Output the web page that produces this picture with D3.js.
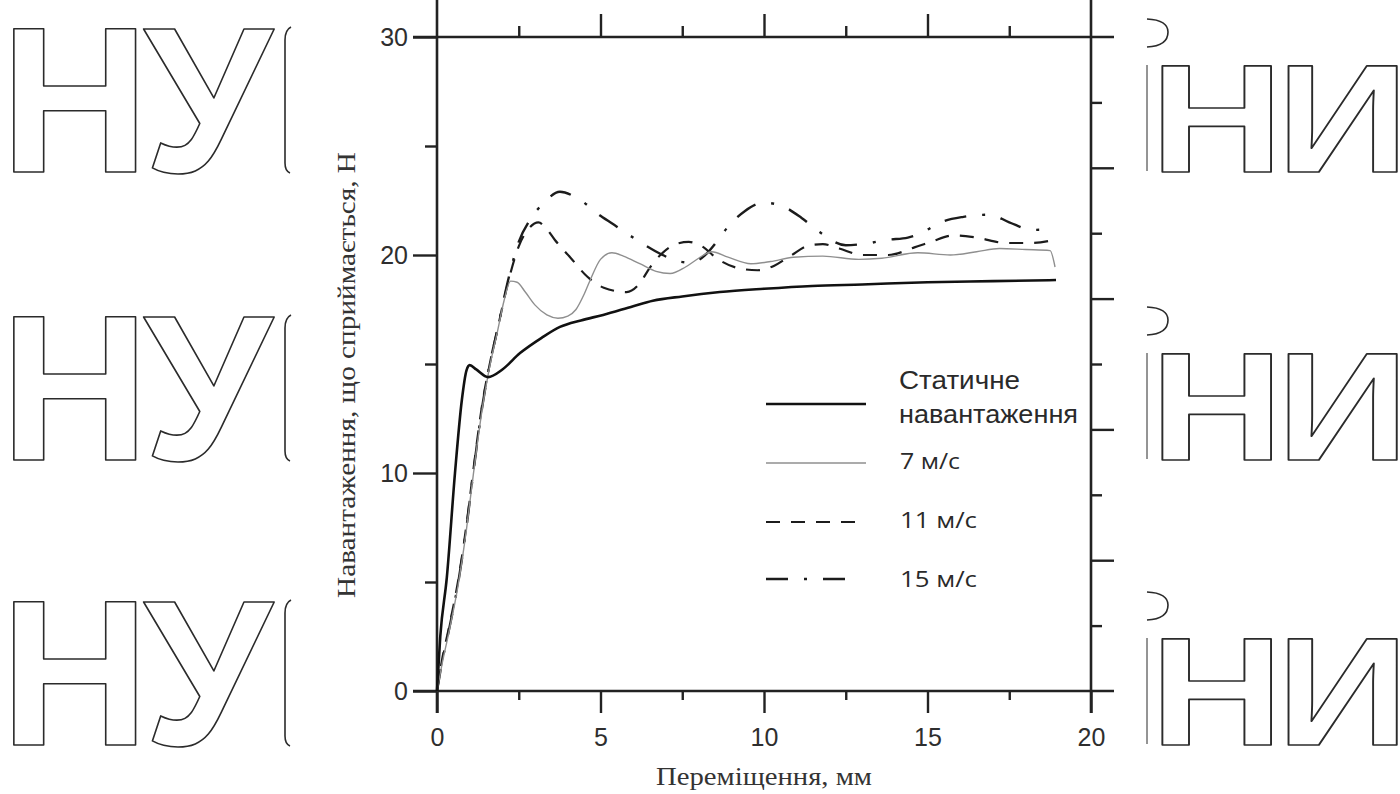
<!DOCTYPE html>
<html>
<head>
<meta charset="utf-8">
<script src="https://cdn.jsdelivr.net/npm/d3@7"></script>
<style>
  html, body { margin: 0; padding: 0; background: #fff; }
  svg { display: block; }
</style>
</head>
<body>
<svg id="chart" width="1400" height="794"></svg>
<script>
// Load vs. displacement: static loading and three impact speeds
const staticLoad = [[0,0],[0.1,2.5],[0.3,5.2],[0.55,10],[0.76,13.35],[0.9,14.7],[1.0,14.95],[1.2,14.75],[1.56,14.4],[2.0,14.75],[2.54,15.5],[3.2,16.2],[3.76,16.7],[4.4,17.0],[5.08,17.25],[6.0,17.65],[6.6,17.9],[7.5,18.1],[8.65,18.3],[10,18.45],[11.47,18.58],[13,18.65],[15,18.75],[17,18.8],[18.93,18.85]];

const speed7 = [[0,0],[0.15,1.2],[0.35,2.6],[0.64,4.8],[0.9,7.4],[1.1,9.8],[1.4,13.1],[1.6,14.8],[1.85,16.5],[2.05,17.9],[2.25,18.8],[2.45,18.75],[2.7,18.3],[3.0,17.7],[3.36,17.25],[3.7,17.1],[4.0,17.2],[4.25,17.5],[4.5,18.2],[4.7,18.9],[5.0,19.8],[5.35,20.1],[5.7,19.95],[6.2,19.6],[6.7,19.25],[7.13,19.15],[7.6,19.45],[8.0,19.85],[8.4,20.15],[8.9,19.9],[9.6,19.6],[10.2,19.7],[10.9,19.9],[11.8,19.95],[12.9,19.8],[13.6,19.85],[14.7,20.1],[15.7,20.0],[16.5,20.15],[17.2,20.3],[18.0,20.25],[18.75,20.2],[18.9,19.45]];

const speed11 = [[0,0],[0.15,1.4],[0.35,2.8],[0.64,5.0],[0.9,7.6],[1.1,10],[1.4,13.3],[1.6,14.9],[1.85,16.6],[2.2,18.9],[2.5,20.4],[2.8,21.2],[3.1,21.5],[3.35,21.2],[3.6,20.7],[4.07,19.9],[4.6,19.0],[5.1,18.5],[5.8,18.3],[6.2,18.7],[6.5,19.4],[6.9,20.1],[7.3,20.5],[7.7,20.6],[8.1,20.4],[8.6,19.8],[9.2,19.4],[9.8,19.3],[10.3,19.5],[10.8,19.95],[11.4,20.45],[11.8,20.5],[12.3,20.3],[13.0,20.0],[13.8,20.0],[14.6,20.35],[15.1,20.6],[15.8,20.9],[16.5,20.8],[17.4,20.55],[18.2,20.55],[18.9,20.7]];

const speed15 = [[0,0],[0.15,1.3],[0.35,2.7],[0.64,4.9],[0.9,7.5],[1.1,9.9],[1.4,13.2],[1.6,14.9],[1.85,16.6],[2.2,19.0],[2.5,20.6],[2.84,21.6],[3.27,22.4],[3.76,22.9],[4.3,22.6],[5.0,21.8],[5.5,21.3],[6.1,20.7],[6.9,20.0],[7.4,19.7],[7.8,19.65],[8.2,20.0],[8.6,20.7],[8.9,21.3],[9.4,22.0],[10.0,22.4],[10.55,22.25],[11.15,21.7],[11.7,21.05],[12.5,20.45],[13.0,20.5],[13.8,20.7],[14.4,20.8],[14.8,21.0],[15.4,21.5],[16.1,21.75],[16.9,21.85],[17.5,21.5],[18.2,21.15],[18.9,21.2]];

const xMajorTicks = [0, 5, 10, 15, 20];
const xMinorTicks = [2.5, 7.5, 12.5, 17.5];
const yMajorTicks = [0, 10, 20, 30];
const yMinorTicks = [5, 15, 25];
const rightTicks = [1, 2, 3, 4, 5, 6, 7, 8, 9];

const legendLabels = [["Статичне", "навантаження"], ["7 м/с"], ["11 м/с"], ["15 м/с"]];
const xTitle = "Переміщення, мм";
const yTitle = "Навантаження, що сприймається, Н";

const seriesStyle = [
  { data: staticLoad, color: "#111", width: 2.6, dash: null },
  { data: speed7,     color: "#8f8f8f", width: 1.4, dash: null },
  { data: speed11,    color: "#1c1c1c", width: 2.2, dash: "14,11" },
  { data: speed15,    color: "#1c1c1c", width: 2.4, dash: "22,16,3,16" }
];

const svg = d3.select("#chart");
const W = 1400, H = 794;
svg.append("rect").attr("width", W).attr("height", H).attr("fill", "#fff");

// Outlined background lettering
const wm = svg.append("g").attr("fill", "none").attr("stroke", "#2b2b2b")
  .attr("stroke-width", 1.6).attr("stroke-linejoin", "round");
[0, 288, 573].forEach(off => {
  const gl = wm.append("g").attr("transform", `translate(0,${off})`);
  gl.append("text")
    .attr("x", 0).attr("y", 172)
    .attr("font-family", "Liberation Sans, Arial, sans-serif")
    .attr("font-weight", "bold").attr("font-size", 207)
    .text("Н").append("tspan").attr("dx", -6).text("У");
  gl.append("path").attr("d", "M291,27 Q285,30 285,40 L285,163 Q285,171 290,173");
  const gr = wm.append("g").attr("transform", `translate(0,${off})`);
  gr.append("text")
    .attr("transform", "translate(1150,172) scale(1.2,1)")
    .attr("font-family", "Liberation Sans, Arial, sans-serif")
    .attr("font-weight", "bold").attr("font-size", 154)
    .text("Н").append("tspan").attr("dx", -6)
    .attr("letter-spacing", -13).text("И");
  gr.append("path").attr("d", "M1147,19 Q1168,20 1168,32 Q1168,46 1147,47");
  gr.append("path").attr("stroke-width", 1).attr("d", "M1147,65 L1147,171");
});

// Scales
const x = d3.scaleLinear().domain([0, 20]).range([437, 1091]);
const y = d3.scaleLinear().domain([0, 30]).range([691, 37]);
const yRight = d3.scaleLinear().domain([0, 10]).range([691, 37]);

const axisColor = "#222";
const tickFont = "Liberation Sans, Arial, sans-serif";

function styleAxis(g) {
  g.select(".domain").remove();
  g.selectAll(".tick line").attr("stroke", axisColor).attr("stroke-width", 2.4);
  g.selectAll(".tick text").attr("fill", "#2e2e2e")
    .attr("font-family", tickFont).attr("font-size", 25);
}

// Bottom axis
svg.append("g").attr("transform", `translate(0,${y(0)})`)
  .call(d3.axisBottom(x).tickValues(xMajorTicks).tickSize(22).tickPadding(15).tickFormat(d3.format("d")))
  .call(styleAxis);
svg.append("g").attr("transform", `translate(0,${y(0)})`)
  .call(d3.axisBottom(x).tickValues(xMinorTicks).tickSize(9).tickFormat(""))
  .call(styleAxis);

// Top axis
svg.append("g").attr("transform", `translate(0,${y(30)})`)
  .call(d3.axisTop(x).tickValues([5, 10, 15]).tickSize(23).tickFormat(""))
  .call(styleAxis);
svg.append("g").attr("transform", `translate(0,${y(30)})`)
  .call(d3.axisTop(x).tickValues(xMinorTicks).tickSize(11).tickFormat(""))
  .call(styleAxis);

// Left axis
svg.append("g").attr("transform", `translate(${x(0)},0)`)
  .call(d3.axisLeft(y).tickValues(yMajorTicks).tickSize(24).tickPadding(5).tickFormat(d3.format("d")))
  .call(styleAxis);
svg.append("g").attr("transform", `translate(${x(0)},0)`)
  .call(d3.axisLeft(y).tickValues(yMinorTicks).tickSize(12).tickFormat(""))
  .call(styleAxis);

// Right axis (unlabelled): long ticks on even steps, short on odd
svg.append("g").attr("transform", `translate(${x(20)},0)`)
  .call(d3.axisRight(yRight).tickValues(rightTicks)
    .tickSize(0).tickFormat(""))
  .call(styleAxis)
  .selectAll(".tick line")
  .attr("x2", d => (d % 2 === 0 ? 23 : 11));

// Frame lines
const frame = svg.append("g").attr("stroke", axisColor).attr("stroke-width", 2.6);
frame.append("line").attr("x1", x(0) - 24).attr("x2", x(20) + 23).attr("y1", y(30)).attr("y2", y(30));
frame.append("line").attr("x1", x(0) - 24).attr("x2", x(20) + 23).attr("y1", y(0)).attr("y2", y(0));
frame.append("line").attr("x1", x(0)).attr("x2", x(0)).attr("y1", 0).attr("y2", y(0) + 22);
frame.append("line").attr("x1", x(20)).attr("x2", x(20)).attr("y1", 0).attr("y2", y(0) + 22);

// Curves
const line = d3.line().x(d => x(d[0])).y(d => y(d[1])).curve(d3.curveMonotoneX);
const curves = svg.append("g").attr("fill", "none").attr("stroke-linecap", "butt");
seriesStyle.slice().reverse().forEach(s => {
  curves.append("path")
    .attr("d", line(s.data))
    .attr("stroke", s.color)
    .attr("stroke-width", s.width)
    .attr("stroke-dasharray", s.dash);
});

// Legend
const legendRows = [404, 463, 522, 579];
const lg = svg.append("g");
seriesStyle.forEach((s, i) => {
  lg.append("line")
    .attr("x1", 766).attr("x2", i === 3 ? 858 : 866)
    .attr("y1", legendRows[i]).attr("y2", legendRows[i])
    .attr("stroke", s.color).attr("stroke-width", s.width)
    .attr("stroke-dasharray", s.dash);
});
const lgText = lg.append("g").attr("fill", "#2a2a2a");
lgText.append("text").attr("x", 899).attr("y", 389)
  .attr("font-family", tickFont).attr("font-size", 25)
  .attr("textLength", 121).attr("lengthAdjust", "spacingAndGlyphs")
  .text(legendLabels[0][0]);
lgText.append("text").attr("x", 899).attr("y", 423)
  .attr("font-family", tickFont).attr("font-size", 25)
  .attr("textLength", 179).attr("lengthAdjust", "spacingAndGlyphs")
  .text(legendLabels[0][1]);
[[1, 469, 60], [2, 528, 77], [3, 587, 77]].forEach(([i, yy, len]) => {
  lgText.append("text").attr("x", 900).attr("y", yy)
    .attr("font-family", "Open Sans, Noto Sans, sans-serif").attr("font-size", 22)
    .attr("textLength", len).attr("lengthAdjust", "spacingAndGlyphs")
    .text(legendLabels[i][0]);
});

// Axis titles
svg.append("text")
  .attr("x", 764).attr("y", 785)
  .attr("text-anchor", "middle")
  .attr("font-family", "Liberation Serif, Times New Roman, serif")
  .attr("font-size", 25).attr("fill", "#333")
  .attr("textLength", 216).attr("lengthAdjust", "spacingAndGlyphs")
  .text(xTitle);
svg.append("text")
  .attr("transform", "translate(355,375) rotate(-90)")
  .attr("text-anchor", "middle")
  .attr("font-family", "Liberation Serif, Times New Roman, serif")
  .attr("font-size", 25).attr("fill", "#333")
  .attr("textLength", 446).attr("lengthAdjust", "spacingAndGlyphs")
  .text(yTitle);
</script>
</body>
</html>
